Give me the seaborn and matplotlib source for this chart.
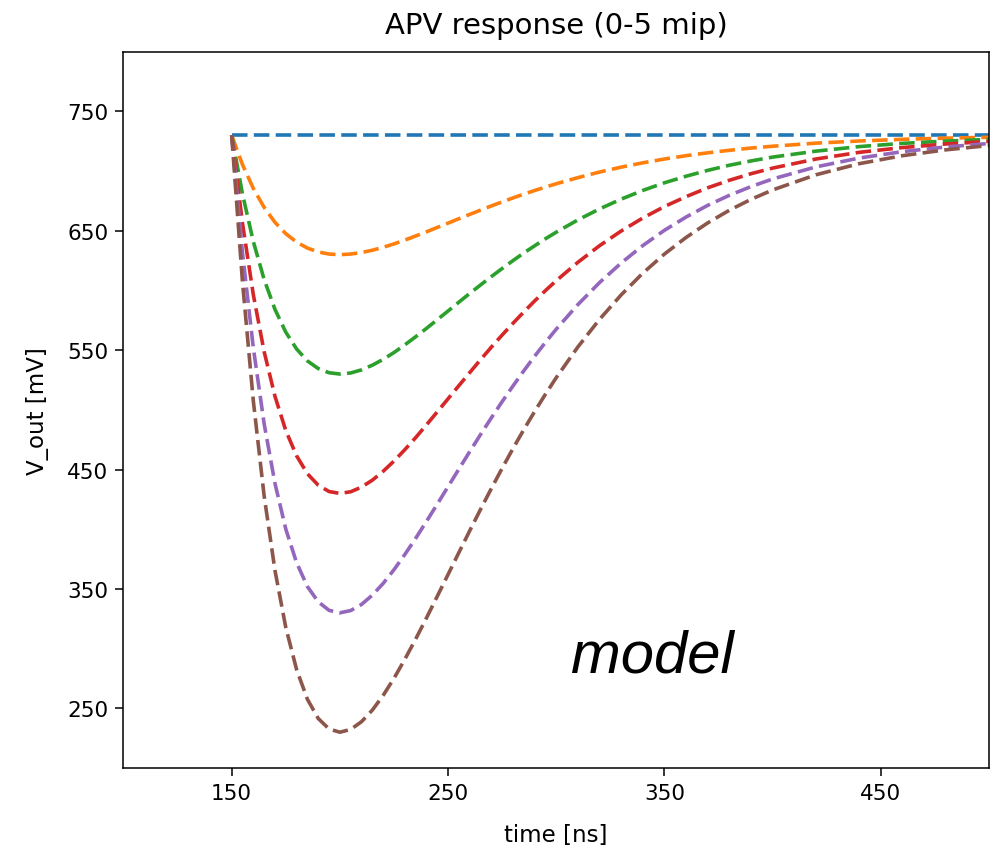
import matplotlib
matplotlib.use("Agg")
import matplotlib.pyplot as plt
import seaborn as sns
import pandas as pd

# ---- data ----
time_ns = [150, 155, 160, 165, 170, 175, 180, 185, 190, 195, 200, 205, 210, 215,
           220, 225, 230, 235, 240, 245, 250, 255, 260, 265, 270, 275, 280, 285,
           290, 295, 300, 310, 320, 330, 340, 350, 360, 370, 380, 390, 400, 420,
           440, 460, 480, 500]

v_0mip = [730] * len(time_ns)
v_1mip = [730, 705.4, 685.5, 669.6, 657.1, 647.6, 640.5, 635.5, 632.3, 630.5, 630,
          630.5, 631.8, 633.7, 636.2, 639.0, 642.2, 645.6, 649.1, 652.8, 656.4,
          660.1, 663.7, 667.3, 670.8, 674.2, 677.5, 680.7, 683.7, 686.6, 689.4,
          694.5, 699.2, 703.3, 706.9, 710.1, 712.9, 715.3, 717.4, 719.3, 720.8,
          723.4, 725.2, 726.6, 727.6, 728.3]
v_2mip = [730, 680.8, 641.0, 609.2, 584.2, 565.1, 551.0, 541.0, 534.6, 531.1, 530,
          530.9, 533.5, 537.4, 542.3, 548.0, 554.4, 561.2, 568.2, 575.5, 582.8,
          590.2, 597.5, 604.6, 611.6, 618.4, 625.0, 631.4, 637.4, 643.3, 648.8,
          659.1, 668.3, 676.5, 683.8, 690.2, 695.7, 700.6, 704.9, 708.5, 711.7,
          716.7, 720.5, 723.2, 725.1, 726.5]
v_3mip = [730, 656.2, 596.5, 548.8, 511.4, 482.7, 461.5, 446.5, 436.9, 431.6, 430,
          431.4, 435.3, 441.1, 448.5, 457.1, 466.6, 476.7, 487.4, 498.3, 509.3,
          520.3, 531.2, 542.0, 552.5, 562.7, 572.5, 582.0, 591.2, 599.9, 608.2,
          623.6, 637.5, 649.8, 660.7, 670.3, 678.6, 686.0, 692.3, 697.8, 702.5,
          710.1, 715.7, 719.7, 722.7, 724.8]
v_4mip = [730, 631.6, 552.0, 488.4, 438.5, 400.2, 372.0, 352.0, 339.2, 332.1, 330,
          331.9, 337.0, 344.8, 354.6, 366.1, 378.8, 392.3, 406.5, 421.0, 435.7,
          450.4, 465.0, 479.3, 493.3, 506.9, 520.0, 532.7, 544.9, 556.5, 567.6,
          588.2, 606.6, 623.0, 637.6, 650.4, 661.5, 671.3, 679.7, 687.0, 693.4,
          703.5, 710.9, 716.3, 720.2, 723.1]
v_5mip = [730, 607.0, 507.6, 428.0, 365.6, 317.8, 282.5, 257.6, 241.5, 232.7, 230,
          232.3, 238.8, 248.5, 260.8, 275.1, 291.0, 307.9, 325.6, 343.8, 362.1,
          380.5, 398.7, 416.6, 434.1, 451.1, 467.6, 483.4, 498.6, 513.1, 527.0,
          552.7, 575.8, 596.3, 614.5, 630.5, 644.4, 656.6, 667.2, 676.3, 684.2,
          696.9, 706.2, 712.9, 717.8, 721.4]

series_names = ["0 mip", "1 mip", "2 mip", "3 mip", "4 mip", "5 mip"]
series_values = [v_0mip, v_1mip, v_2mip, v_3mip, v_4mip, v_5mip]

x_ticks = [150, 250, 350, 450]
y_ticks = [250, 350, 450, 550, 650, 750]

title = "APV response (0-5 mip)"
x_label = "time [ns]"
y_label = "V_out [mV]"
annotation = "model"

# ---- build long-form table ----
frames = []
for name, vals in zip(series_names, series_values):
    frames.append(pd.DataFrame({"time": time_ns, "V_out": vals, "mip": name}))
df = pd.concat(frames, ignore_index=True)

plt.rcParams["font.family"] = ["DejaVu Sans"]

fig = plt.figure(figsize=(9.91, 8.54), dpi=100)
ax = fig.add_axes([0.1246, 0.0995, 0.8734, 0.8388])

palette = sns.color_palette("tab10", 6)
sns.lineplot(data=df, x="time", y="V_out", hue="mip", palette=palette,
             hue_order=series_names, sort=False, estimator=None,
             linestyle="--", linewidth=2.6, legend=False, ax=ax)
for line in ax.lines:
    line.set_dashes([4.3, 1.75])

ax.set_xlim(100, 500)
ax.set_ylim(200, 800)
ax.set_xticks(x_ticks)
ax.set_yticks(y_ticks)
ax.tick_params(axis="both", labelsize=15.5, length=6, width=1.1, pad=5)
for sp in ax.spines.values():
    sp.set_linewidth(1.1)
    sp.set_color("black")

ax.set_title(title, fontsize=21, pad=13.5)
ax.set_xlabel(x_label, fontsize=16.5, labelpad=14)
ax.set_ylabel(y_label, fontsize=16.5, labelpad=13)

ax.text(307, 281, annotation, fontsize=43, style="italic",
        family=["Liberation Sans", "DejaVu Sans"], ha="left", va="baseline")

fig.savefig("out.png", dpi=100)
